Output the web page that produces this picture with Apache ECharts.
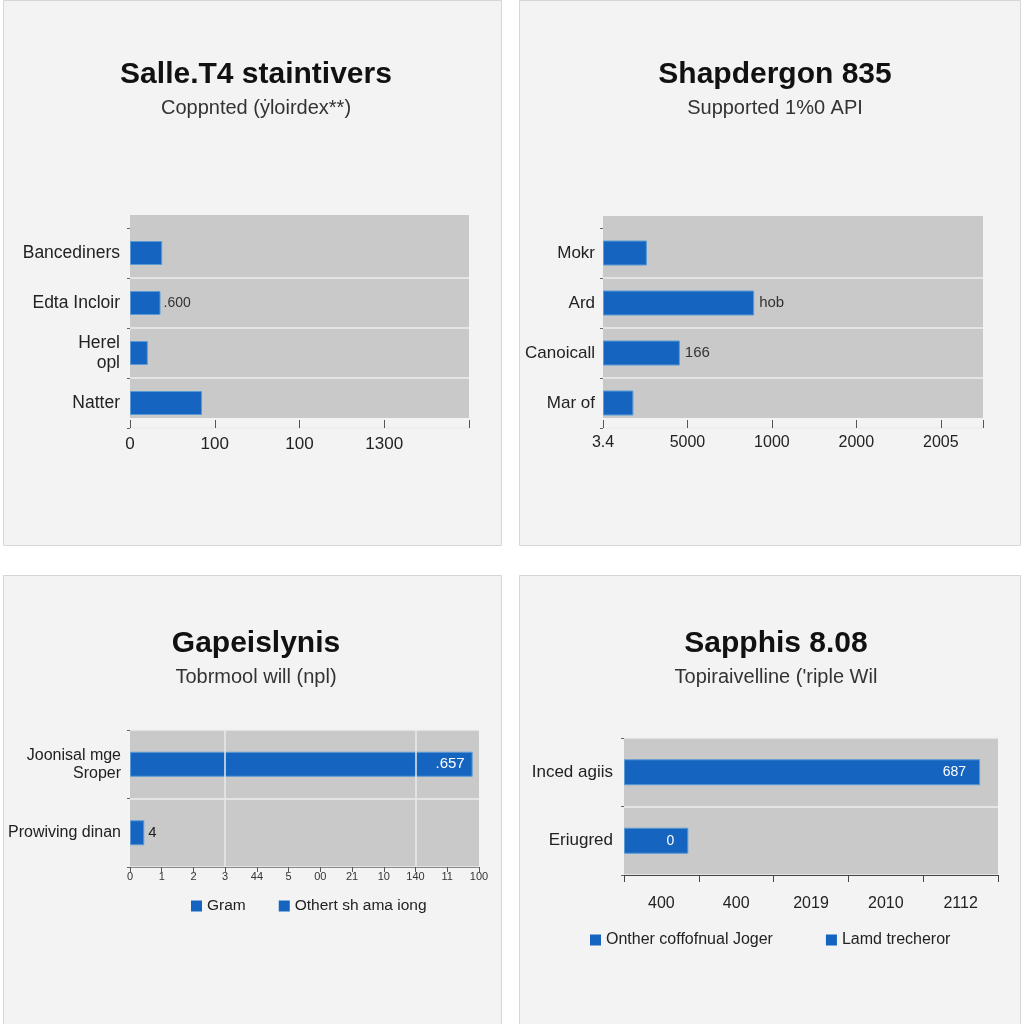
<!DOCTYPE html>
<html>
<head>
<meta charset="utf-8">
<script src="https://cdn.jsdelivr.net/npm/echarts@6/dist/echarts.min.js"></script>
<style>
html,body{margin:0;padding:0;background:#ffffff;}
#chart{width:1024px;height:1024px;}
</style>
</head>
<body>
<div id="chart"></div>
<script>
// ---- Data ----
const p1Title = 'Salle.T4 staintivers';
const p1Subtitle = 'Coppnted (ẏloirdex**)';
const p1Categories = ['Bancediners', 'Edta Incloir', 'Herel\nopl', 'Natter'];
const p1Values = [38, 36, 21, 85];
const p1Labels = ['', '.600', '', ''];
const p1Ticks = ['0', '100', '100', '1300', ''];

const p2Title = 'Shapdergon 835';
const p2Subtitle = 'Supported 1%0 API';
const p2Categories = ['Mokr', 'Ard', 'Canoicall', 'Mar of'];
const p2Values = [52, 179, 91, 36];
const p2Labels = ['', 'hob', '166', ''];
const p2Ticks = ['3.4', '5000', '1000', '2000', '2005'];

const p3Title = 'Gapeislynis';
const p3Subtitle = 'Tobrmool will (npl)';
const p3Categories = ['Joonisal mge\nSroper', 'Prowiving dinan'];
const p3Values = [10.8, 0.45];
const p3Labels = ['.657', '4'];
const p3Ticks = ['0', '1', '2', '3', '44', '5', '00', '21', '10', '140', '11', '100'];
const p3Legend = ['Gram', 'Othert sh ama iong'];

const p4Title = 'Sapphis 8.08';
const p4Subtitle = "Topiraivelline ('riple Wil";
const p4Categories = ['Inced agiis', 'Eriugred'];
const p4Values = [476, 86];
const p4Labels = ['687', '0'];
const p4Ticks = ['400', '400', '2019', '2010', '2112'];
const p4Legend = ['Onther coffofnual Joger', 'Lamd trecheror'];

// ---- Styles ----
const FONT = '"Liberation Sans", Arial, sans-serif';
const BLUE = '#1565c0';
const BORDER = '#5b9bd5';
const PLOTBG = '#c9c9c9';

function tickFmt(ticks, step) {
  return function (v) {
    const i = Math.round(v / step);
    if (Math.abs(v - i * step) > 1e-6) return '';
    return ticks[i] !== undefined ? ticks[i] : '';
  };
}

function barData(values, labels, posFn) {
  return values.map((v, i) => {
    const p = posFn(i);
    return {
      value: v,
      label: {
        show: labels[i] !== '',
        formatter: labels[i],
        position: p.position,
        color: p.color,
        fontSize: p.fontSize,
        distance: p.distance,
        fontFamily: FONT
      }
    };
  });
}

const cards = [
  [3, 0, 498, 545], [519, 0, 501, 545], [3, 575, 498, 449], [519, 575, 501, 449]
].map(r => ({
  type: 'rect', z: -100,
  shape: { x: r[0] + 0.5, y: r[1] + 0.5, width: r[2], height: r[3] },
  style: { fill: '#f3f3f3', stroke: '#d6d6d6', lineWidth: 1 }
}));
// plot backdrops of the two upper panels (decoration only)
const backdrops = [
  [130, 215, 339, 203], [603, 216, 380, 202]
].map(r => ({
  type: 'rect', z: -50,
  shape: { x: r[0], y: r[1], width: r[2], height: r[3] },
  style: { fill: PLOTBG }
}));

function titleComp(text, sub, cx, top, size) {
  return {
    text: text, subtext: sub, left: cx, top: top, textAlign: 'center', itemGap: 8,
    textStyle: { fontFamily: FONT, fontSize: size, fontWeight: 'bold', color: '#111' },
    subtextStyle: { fontFamily: FONT, fontSize: 20, color: '#333' }
  };
}

const catAxisBase = (gi, cats, fontSize, margin, innerOnly) => ({
  type: 'category', gridIndex: gi, data: cats, inverse: true,
  axisLine: { show: false },
  axisTick: { show: true, length: 3, lineStyle: { color: '#666' } },
  axisLabel: { fontFamily: FONT, fontSize: fontSize, color: '#222', margin: margin, lineHeight: fontSize + 2 },
  splitLine: {
    show: true,
    interval: innerOnly ? function (i) { return i > 0 && i < cats.length; } : 0,
    lineStyle: { color: '#ececec', width: 1.5 }
  }
});

const option = {
  animation: false,
  backgroundColor: 'transparent',
  graphic: cards.concat(backdrops),
  title: [
    titleComp(p1Title, p1Subtitle, 251, 55, 30),
    titleComp(p2Title, p2Subtitle, 770, 55, 30),
    titleComp(p3Title, p3Subtitle, 251, 624, 30),
    titleComp(p4Title, p4Subtitle, 771, 624, 30)
  ],
  legend: [
    {
      data: p3Legend, left: 186, top: 893, icon: 'rect', itemWidth: 11, itemHeight: 11, itemGap: 33,
      itemStyle: { borderWidth: 0 },
      textStyle: { fontFamily: FONT, fontSize: 15.5, color: '#222' }
    },
    {
      data: p4Legend, left: 585, top: 927, icon: 'rect', itemWidth: 11, itemHeight: 11, itemGap: 53,
      itemStyle: { borderWidth: 0 },
      textStyle: { fontFamily: FONT, fontSize: 16, color: '#222' }
    }
  ],
  grid: [
    { left: 130, top: 228, width: 339, height: 200, show: false },
    { left: 603, top: 228, width: 380, height: 200, show: false },
    { left: 130, top: 730, width: 349, height: 137, show: true, backgroundColor: PLOTBG, borderWidth: 0 },
    { left: 624, top: 738, width: 374, height: 137, show: true, backgroundColor: PLOTBG, borderWidth: 0 }
  ],
  xAxis: [
    {
      type: 'value', gridIndex: 0, min: 0, max: 400, interval: 100,
      axisLine: { show: false },
      axisTick: { show: true, inside: true, length: 8, lineStyle: { color: '#555' } },
      axisLabel: { fontFamily: FONT, fontSize: 17, color: '#222', margin: 8, formatter: tickFmt(p1Ticks, 100) },
      splitLine: { show: false }
    },
    {
      type: 'value', gridIndex: 1, min: 0, max: 450, interval: 100,
      axisLine: { show: false },
      axisTick: { show: true, inside: true, length: 8, lineStyle: { color: '#555' } },
      axisLabel: { fontFamily: FONT, fontSize: 16, color: '#222', margin: 7, formatter: tickFmt(p2Ticks, 100) },
      splitLine: { show: false }
    },
    {
      type: 'value', gridIndex: 2, min: 0, max: 11, interval: 1,
      axisLine: { show: true, lineStyle: { color: '#888' } },
      axisTick: { show: true, length: 5, lineStyle: { color: '#555' } },
      axisLabel: { fontFamily: FONT, fontSize: 11, color: '#333', margin: 4, formatter: tickFmt(p3Ticks, 1) },
      splitLine: { show: false }
    },
    {
      type: 'value', gridIndex: 3, min: 0, max: 500, position: 'top', show: false,
      splitLine: { show: false }
    },
    {
      type: 'category', gridIndex: 3, position: 'bottom', data: p4Ticks, boundaryGap: true,
      axisLine: { show: true, lineStyle: { color: '#444' } },
      axisTick: { show: true, length: 7, lineStyle: { color: '#444' } },
      axisLabel: { fontFamily: FONT, fontSize: 16, color: '#222', margin: 21 },
      splitLine: { show: false }
    }
  ],
  yAxis: [
    catAxisBase(0, p1Categories, 17.5, 10, true),
    catAxisBase(1, p2Categories, 17, 8, true),
    catAxisBase(2, p3Categories, 16, 9, false),
    catAxisBase(3, p4Categories, 17, 11, false)
  ],
  series: [
    {
      name: 'p1', type: 'bar', xAxisIndex: 0, yAxisIndex: 0, barWidth: 24,
      itemStyle: { color: BLUE, borderColor: BORDER, borderWidth: 1 },
      data: barData(p1Values, p1Labels, () => ({ position: 'right', color: '#333', fontSize: 14, distance: 3 }))
    },
    {
      name: 'p2', type: 'bar', xAxisIndex: 1, yAxisIndex: 1, barWidth: 25,
      itemStyle: { color: BLUE, borderColor: BORDER, borderWidth: 1 },
      data: barData(p2Values, p2Labels, () => ({ position: 'right', color: '#333', fontSize: 15, distance: 5 }))
    },
    {
      name: p3Legend[0], type: 'bar', stack: 'p3', xAxisIndex: 2, yAxisIndex: 2, barWidth: 25,
      itemStyle: { color: BLUE, borderColor: BORDER, borderWidth: 1 },
      data: barData(p3Values, p3Labels, i => i === 0
        ? { position: 'insideRight', color: '#ffffff', fontSize: 15, distance: 8 }
        : { position: 'right', color: '#222', fontSize: 15, distance: 4 }),
      markLine: {
        silent: true, symbol: 'none', label: { show: false },
        lineStyle: { color: '#e8e8e8', type: 'solid', width: 1.5 },
        data: [{ xAxis: 3 }, { xAxis: 9 }]
      }
    },
    {
      name: p3Legend[1], type: 'bar', stack: 'p3', xAxisIndex: 2, yAxisIndex: 2, barWidth: 25,
      itemStyle: { color: BLUE }, data: []
    },
    {
      name: p4Legend[0], type: 'bar', stack: 'p4', xAxisIndex: 3, yAxisIndex: 3, barWidth: 26,
      itemStyle: { color: BLUE, borderColor: BORDER, borderWidth: 1 },
      data: barData(p4Values, p4Labels, () => ({ position: 'insideRight', color: '#ffffff', fontSize: 14, distance: 14 }))
    },
    {
      name: p4Legend[1], type: 'bar', stack: 'p4', xAxisIndex: 3, yAxisIndex: 3, barWidth: 26,
      itemStyle: { color: BLUE }, data: []
    }
  ]
};

const chart = echarts.init(document.getElementById('chart'), null, { renderer: 'canvas' });
chart.setOption(option);
</script>
</body>
</html>
